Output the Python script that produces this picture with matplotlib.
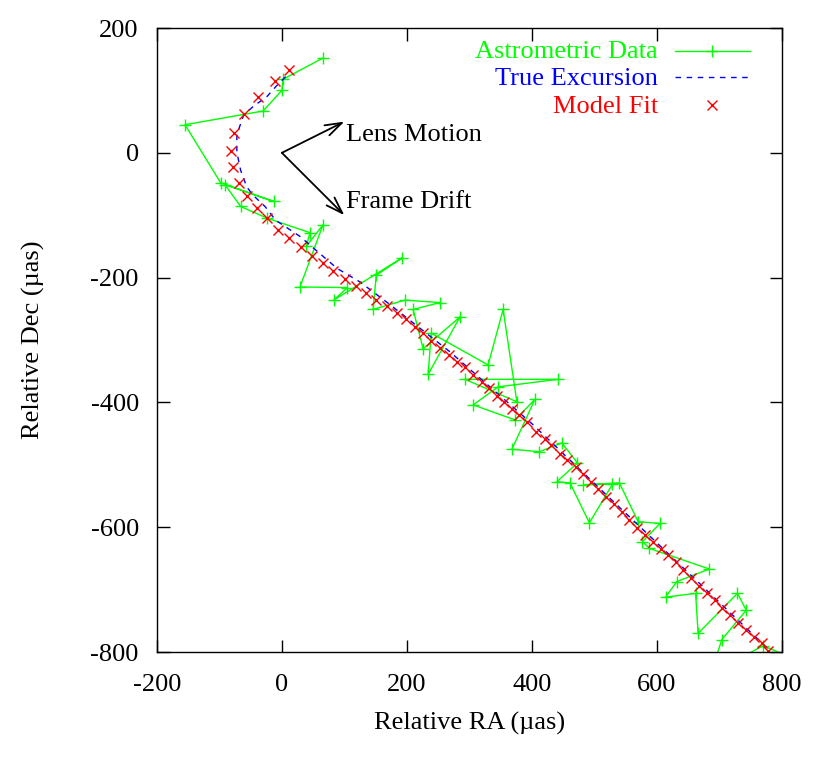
import matplotlib
matplotlib.use("Agg")
import matplotlib.pyplot as plt
from matplotlib.lines import Line2D

plt.rcParams['font.family'] = ['Liberation Serif', 'DejaVu Serif']
plt.rcParams['axes.unicode_minus'] = False

# astrometric data (noisy measurements), in drawing order
data_ra = [66, 2, 0, -30, -155, -98, -13, -91, -66, -23, 45, 39, 66, 29,
           105, 83, 193, 151, 146, 197, 253, 210, 226, 285, 234, 239, 330,
           354, 376, 293, 442, 346, 306, 373, 405, 368, 412, 448, 473, 440,
           461, 492, 529, 482, 540, 570, 605, 577, 588, 684, 632, 614, 662,
           666, 729, 743, 704, 686, 770, 830]
data_dec = [152, 118, 100, 67, 45, -48, -78, -51, -86, -105, -128, -150, -115, -215,
            -216, -236, -168, -196, -251, -236, -240, -251, -314, -263, -355, -289, -340,
            -251, -399, -363, -363, -375, -404, -428, -395, -475, -479, -465, -497, -527,
            -529, -593, -531, -532, -529, -591, -594, -623, -634, -667, -687, -712, -706,
            -770, -706, -733, -780, -835, -790, -815]

# true excursion
true_ra = [6, -8, -24, -45, -61, -72, -72, -66, -56, -46, -27, -10, 29, 88,
           125, 170, 269, 400, 520, 640, 780]
true_dec = [122, 108, 90, 75, 61, 29, 1, -28, -55, -68, -86, -108, -134, -185,
            -207, -241, -319, -434, -549, -663, -797]

# model fit
fit_ra = [12, -11, -38, -61, -76, -82, -78, -69, -56, -40, -23, -6, 12, 30,
          48, 66, 82, 101, 118, 134, 150, 168, 184, 198, 213, 226, 238, 253,
          268, 281, 293, 306, 320, 332, 344, 356, 368, 380, 393, 407, 421, 431,
          445, 456, 470, 482, 494, 506, 518, 532, 544, 556, 568, 581, 594, 606,
          618, 631, 642, 655, 668, 681, 693, 705, 717, 730, 742, 755, 768, 778]
fit_dec = [132, 115, 90, 62, 32, 3, -22, -48, -69, -88, -104, -123, -137, -151,
           -165, -177, -190, -203, -213, -225, -236, -246, -256, -267, -279, -289, -301, -313,
           -324, -335, -344, -356, -367, -377, -389, -399, -411, -420, -432, -447, -458, -468,
           -482, -492, -504, -515, -527, -539, -552, -563, -576, -588, -602, -612, -623, -635,
           -645, -656, -669, -682, -694, -705, -717, -729, -741, -753, -765, -776, -786, -798]

FS = 19

fig = plt.figure(figsize=(8.3, 7.61), dpi=100)
ax = fig.add_axes([0.189, 0.1432, 0.753, 0.82])

ax.plot(data_ra, data_dec, color='#00ff00', lw=1, marker='+', ms=8, mew=1)
ax.plot(true_ra, true_dec, color='#0000ff', lw=1, linestyle=(0, (4, 4)))
ax.plot(fit_ra, fit_dec, color='#ff0000', lw=0, marker='x', ms=7, mew=1)

ax.set_xlim(-200, 800)
ax.set_ylim(-800, 200)
ax.set_xticks(range(-200, 801, 200))
ax.set_yticks(range(-800, 201, 200))
ax.tick_params(direction='in', length=9, width=1, top=True, right=True,
               labelsize=FS)
ax.tick_params(axis='x', pad=16)
ax.tick_params(axis='y', pad=13)
for s in ax.spines.values():
    s.set_linewidth(1)

ax.set_xlabel('Relative RA (µas)', fontsize=FS, labelpad=11)
ax.set_ylabel('Relative Dec (µas)', fontsize=FS, labelpad=33)

# arrows
arr = dict(arrowstyle='->,head_length=1.2,head_width=0.4', color='black', lw=1.3,
           shrinkA=0, shrinkB=0)
ax.annotate('', xy=(100, 50), xytext=(0, 0), arrowprops=arr)
ax.annotate('', xy=(100, -100), xytext=(0, 0), arrowprops=arr)
ax.text(102, 19, 'Lens Motion', fontsize=FS, va='baseline')
ax.text(102, -88, 'Frame Drift', fontsize=FS, va='baseline')

# legend (gnuplot style)
tr = ax.transAxes
ax.text(0.8016, 0.952, 'Astrometric Data', color='#00ff00', fontsize=FS,
        ha='right', va='baseline', transform=tr)
ax.text(0.8016, 0.9087, 'True Excursion', color='#0000ff', fontsize=FS,
        ha='right', va='baseline', transform=tr)
ax.text(0.8016, 0.8643, 'Model Fit', color='#ff0000', fontsize=FS,
        ha='right', va='baseline', transform=tr)
ax.add_line(Line2D([0.8288, 0.9488], [0.963, 0.963], color='#00ff00', lw=1, transform=tr))
ax.add_line(Line2D([0.8888], [0.963], color='#00ff00', marker='+', ms=8, mew=1, transform=tr))
ax.add_line(Line2D([0.8288, 0.9488], [0.9215, 0.9215], color='#0000ff', lw=1,
                   linestyle=(0, (4, 4)), transform=tr))
ax.add_line(Line2D([0.8888], [0.8766], color='#ff0000', marker='x', ms=7, mew=1, transform=tr))

fig.savefig('out.png', dpi=100)
